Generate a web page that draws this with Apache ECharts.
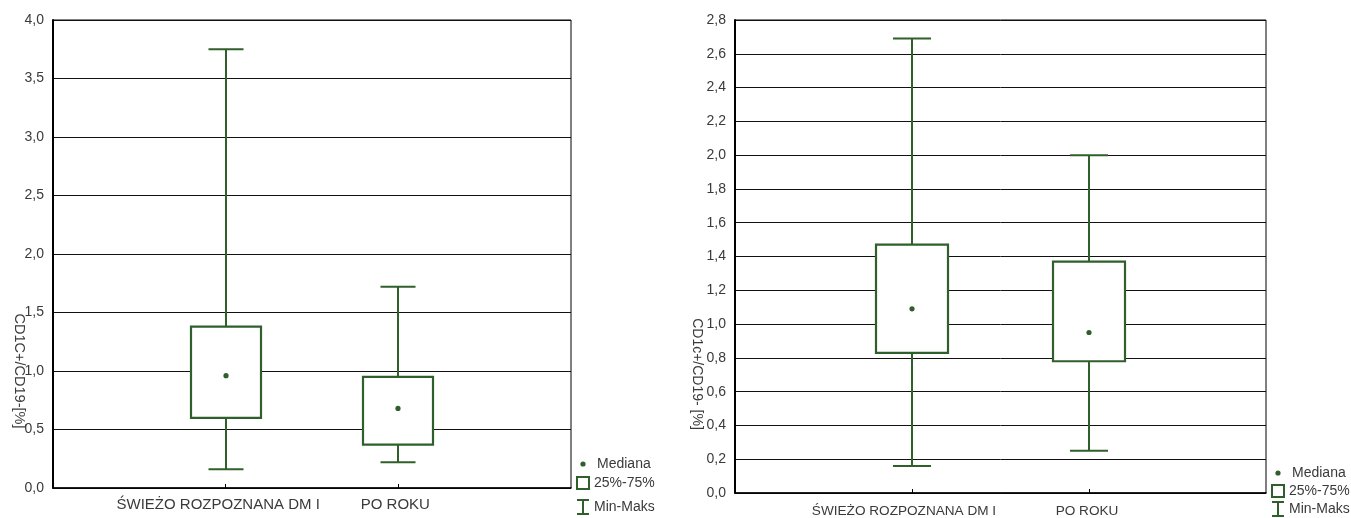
<!DOCTYPE html>
<html>
<head>
<meta charset="utf-8">
<script src="https://cdn.jsdelivr.net/npm/echarts@6/dist/echarts.min.js"></script>
<style>
  html, body { margin: 0; padding: 0; background: #fff; }
  #chart { width: 1351px; height: 518px; }
</style>
</head>
<body>
<div id="chart"></div>
<script>
// Category slots: empty padding slots at both ends keep the groups at 1/3 and 2/3 of the width
const categories = ['', 'ŚWIEŻO ROZPOZNANA DM I', 'PO ROKU', ''];

// Left panel: CD1C+/CD19- [%]
const leftMin    = [0.16, 0.22];
const leftQ1     = [0.60, 0.37];
const leftMedian = [0.96, 0.68];
const leftQ3     = [1.38, 0.95];
const leftMax    = [3.75, 1.72];
const leftTicks  = { min: 0, max: 4, interval: 0.5 };

// Right panel: CD1c+/CD19- [%]
const rightMin    = [0.16, 0.25];
const rightQ1     = [0.83, 0.78];
const rightMedian = [1.09, 0.95];
const rightQ3     = [1.47, 1.37];
const rightMax    = [2.69, 2.00];
const rightTicks  = { min: 0, max: 2.8, interval: 0.2 };

const legendLabels = ['Mediana', '25%-75%', 'Min-Maks'];

const GREEN = '#2f5f2a';
const TEXT = '#3a3a3a';
const FONT = '"Liberation Sans", Arial, sans-serif';

function rows(mins, q1s, meds, q3s, maxs) {
  return mins.map((m, i) => [i + 1, m, q1s[i], meds[i], q3s[i], maxs[i]]);
}

function boxRenderer(boxW, capW) {
  return function (params, api) {
    const x = api.value(0);
    const pMin = api.coord([x, api.value(1)]);
    const pQ1 = api.coord([x, api.value(2)]);
    const pMed = api.coord([x, api.value(3)]);
    const pQ3 = api.coord([x, api.value(4)]);
    const pMax = api.coord([x, api.value(5)]);
    const cx = Math.round(pMin[0]);
    const line = (x1, y1, x2, y2) => ({
      type: 'line',
      shape: { x1, y1, x2, y2 },
      style: { stroke: GREEN, lineWidth: 2 }
    });
    return {
      type: 'group',
      children: [
        line(cx, pQ1[1], cx, pMin[1]),
        line(cx, pQ3[1], cx, pMax[1]),
        line(cx - capW / 2, pMin[1], cx + capW / 2, pMin[1]),
        line(cx - capW / 2, pMax[1], cx + capW / 2, pMax[1]),
        {
          type: 'rect',
          shape: { x: cx - boxW / 2, y: pQ3[1], width: boxW, height: pQ1[1] - pQ3[1] },
          style: { fill: '#fff', stroke: GREEN, lineWidth: 2.2 }
        },
        {
          type: 'circle',
          shape: { cx: cx, cy: pMed[1], r: 2.6 },
          style: { fill: GREEN }
        }
      ]
    };
  };
}

function xAxisFor(gridIndex, fontSize, margin, shiftA, shiftB) {
  return {
    type: 'category',
    gridIndex,
    data: categories,
    boundaryGap: false,
    axisLine: { lineStyle: { color: '#000', width: 1.5 } },
    axisTick: { inside: true, length: 4, lineStyle: { color: '#000' },
                interval: (i, v) => v !== '' },
    axisLabel: {
      interval: (i, v) => v !== '', margin,
      formatter: (v, i) => (i === 1 ? '{a|' : '{b|') + v + '}',
      rich: {
        a: { color: TEXT, fontSize, fontFamily: FONT, padding: [0, shiftA, 0, 0] },
        b: { color: TEXT, fontSize, fontFamily: FONT, padding: [0, shiftB, 0, 0] }
      }
    },
    splitLine: { show: false }
  };
}

function yAxisFor(gridIndex, t) {
  return {
    type: 'value',
    gridIndex,
    min: t.min, max: t.max, interval: t.interval,
    axisLine: { show: true, lineStyle: { color: '#000', width: 2 } },
    axisTick: { show: false },
    axisLabel: { color: TEXT, fontSize: 14, fontFamily: FONT, margin: 9,
                 formatter: v => v.toFixed(1).replace('.', ',') },
    splitLine: { show: true, lineStyle: { color: '#111', width: 1 } }
  };
}

function legendGraphics(x, yDot, ySq, yI) {
  const els = [
    { type: 'circle', shape: { cx: x + 6, cy: yDot, r: 2.6 }, style: { fill: GREEN } },
    { type: 'rect', shape: { x: x, y: ySq - 6, width: 12, height: 12 },
      style: { fill: '#fff', stroke: GREEN, lineWidth: 2 } },
    { type: 'line', shape: { x1: x, y1: yI - 7, x2: x + 12, y2: yI - 7 }, style: { stroke: GREEN, lineWidth: 2 } },
    { type: 'line', shape: { x1: x + 6, y1: yI - 7, x2: x + 6, y2: yI + 7 }, style: { stroke: GREEN, lineWidth: 2 } },
    { type: 'line', shape: { x1: x, y1: yI + 7, x2: x + 12, y2: yI + 7 }, style: { stroke: GREEN, lineWidth: 2 } }
  ];
  [yDot, ySq, yI].forEach((y, i) => {
    els.push({ type: 'text', x: x + (i === 0 ? 20 : 17), y: y,
      style: { text: legendLabels[i], fill: TEXT, font: '14px ' + FONT, textVerticalAlign: 'middle' } });
  });
  return els;
}

const chart = echarts.init(document.getElementById('chart'), null, { renderer: 'canvas' });

chart.setOption({
  animation: false,
  backgroundColor: '#fff',
  grid: [
    { left: 53, top: 20, width: 518, height: 468, show: true, borderColor: '#000', borderWidth: 1, backgroundColor: 'transparent' },
    { left: 735, top: 20, width: 531, height: 474, show: true, borderColor: '#000', borderWidth: 1, backgroundColor: 'transparent' }
  ],
  xAxis: [xAxisFor(0, 15, 9, 15, 6), xAxisFor(1, 13.6, 11, 16, 4)],
  yAxis: [yAxisFor(0, leftTicks), yAxisFor(1, rightTicks)],
  series: [
    {
      type: 'custom', xAxisIndex: 0, yAxisIndex: 0,
      renderItem: boxRenderer(70, 35),
      encode: { x: 0, y: [1, 2, 3, 4, 5] },
      data: rows(leftMin, leftQ1, leftMedian, leftQ3, leftMax)
    },
    {
      type: 'custom', xAxisIndex: 1, yAxisIndex: 1,
      renderItem: boxRenderer(72, 38),
      encode: { x: 0, y: [1, 2, 3, 4, 5] },
      data: rows(rightMin, rightQ1, rightMedian, rightQ3, rightMax)
    }
  ],
  graphic: [
    { type: 'text', x: 19, y: 371, rotation: -Math.PI / 2,
      style: { text: 'CD1C+/CD19-[%]', fill: TEXT, font: '14.5px ' + FONT,
               textAlign: 'center', textVerticalAlign: 'middle' } },
    { type: 'text', x: 697, y: 374, rotation: -Math.PI / 2,
      style: { text: 'CD1c+/CD19- [%]', fill: TEXT, font: '14px ' + FONT,
               textAlign: 'center', textVerticalAlign: 'middle' } }
  ].concat(legendGraphics(577, 464, 483, 507), legendGraphics(1272, 473, 491, 509))
});
</script>
</body>
</html>
